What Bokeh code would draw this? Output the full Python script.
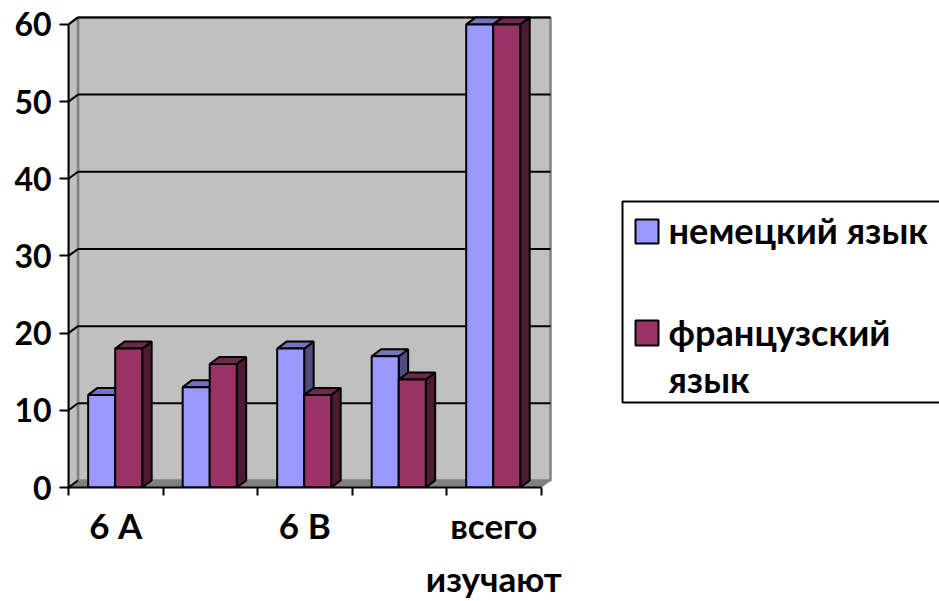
from bokeh.plotting import figure
from bokeh.embed import file_html
from bokeh.resources import INLINE
from bokeh.models import Range1d, LinearAxis, FixedTicker, Label, BoxAnnotation

categories = ["6 А", "6 Б", "6 В", "6 Г", "всего изучают"]
german = [12, 13, 18, 17, 60]
french = [18, 16, 12, 14, 60]
series_names = ["немецкий язык", "французский\nязык"]
y_ticks = [0, 10, 20, 30, 40, 50, 60]
shown_labels = {0.5: "6 А", 2.5: "6 В", 4.5: "всего\nизучают"}

FONT = "Lato"
DX, DY = 0.1, 0.907
BAR_W, GAP = 0.286, 0.208
n = len(categories)
top_v = y_ticks[-1]
FX, FY = 68, 487   # frame's lower left corner on the page

p = figure(width=939, height=601, output_backend="svg", toolbar_location=None,
           x_range=Range1d(0, 9.216), y_range=Range1d(0, 63.1),
           x_axis_type=None, y_axis_type=None,
           min_border_left=FX, min_border_right=0, min_border_top=0, min_border_bottom=114)
p.outline_line_color = None
p.xgrid.visible = False
p.ygrid.visible = False

# walls and floor
p.patch([DX, n + DX, n + DX, DX], [DY, DY, top_v + DY, top_v + DY],
        fill_color="#c0c0c0", line_color="#808080", line_width=2.5)
p.patch([0, DX, DX, 0], [0, DY, top_v + DY, top_v],
        fill_color="#c0c0c0", line_color="#808080", line_width=2.5)
p.patch([0, n, n + DX, DX], [0, 0, DY, DY], fill_color="#808080", line_color="#808080", line_width=1)

# grid
p.multi_line([[DX, n + DX] for v in y_ticks[1:]], [[v + DY, v + DY] for v in y_ticks[1:]],
             line_color="black", line_width=2)
p.multi_line([[0, DX] for v in y_ticks], [[v, v + DY] for v in y_ticks], line_color="black", line_width=2)

# bars
for vals, front, top, side, off in [
        (german, "#9999ff", "#7373bf", "#4d4d80", GAP),
        (french, "#993366", "#73264d", "#4d1a33", GAP + BAR_W)]:
    for i, v in enumerate(vals):
        l = i + off
        r = l + BAR_W
        p.patch([r, r + DX, r + DX, r], [0, DY, v + DY, v], fill_color=side, line_color="black", line_width=2)
        p.patch([l, r, r + DX, l + DX], [v, v, v + DY, v + DY], fill_color=top, line_color="black", line_width=2)
    lefts = [i + off for i in range(n)]
    p.quad(left=lefts, right=[x + BAR_W for x in lefts], bottom=[0] * n, top=vals,
           fill_color=front, line_color="black", line_width=2)

# axes
yax = LinearAxis(ticker=FixedTicker(ticks=y_ticks), bounds=(0, top_v))
yax.axis_line_color = "black"
yax.axis_line_width = 2
yax.major_tick_line_width = 2
yax.major_tick_out = 9
yax.major_tick_in = 0
yax.major_label_standoff = 8
yax.major_label_text_font = FONT
yax.major_label_text_font_style = "bold"
yax.major_label_text_font_size = "32px"
yax.major_label_text_color = "black"
p.add_layout(yax, "left")

xax = LinearAxis(ticker=FixedTicker(ticks=list(shown_labels), minor_ticks=list(range(n + 1))), bounds=(0, n))
xax.axis_line_color = "black"
xax.axis_line_width = 2
xax.major_tick_line_color = None
xax.major_tick_in = 0
xax.major_tick_out = 8
xax.minor_tick_line_color = "black"
xax.minor_tick_line_width = 2
xax.minor_tick_out = 8
xax.minor_tick_in = 0
xax.major_label_overrides = shown_labels
xax.major_label_standoff = 8
xax.major_label_text_font = FONT
xax.major_label_text_font_style = "bold"
xax.major_label_text_font_size = "35px"
xax.major_label_text_line_height = 1.27
xax.major_label_text_color = "black"
p.add_layout(xax, "below")

# legend, placed in page pixels
def box(left, right, top, bottom, fill):
    p.add_layout(BoxAnnotation(left=left - FX, right=right - FX, top=FY - top, bottom=FY - bottom,
                               left_units="screen", right_units="screen", top_units="screen",
                               bottom_units="screen", fill_color=fill, fill_alpha=1,
                               line_color="black", line_alpha=1, line_width=2, editable=False))

def label(x, y, text):
    p.add_layout(Label(x=x - FX, y=FY - y, x_units="screen", y_units="screen", text=text,
                       text_font=FONT, text_font_style="bold", text_font_size="36.2px", text_color="black",
                       text_baseline="middle", text_align="left", text_line_height=1.05))

box(622, 980, 201, 402, "white")
box(635, 658, 219, 243, "#9999ff")
box(635, 658, 320, 345, "#993366")
label(668, 229, series_names[0])
label(668, 355, series_names[1])

open("out.html", "w").write(file_html(p, INLINE))
